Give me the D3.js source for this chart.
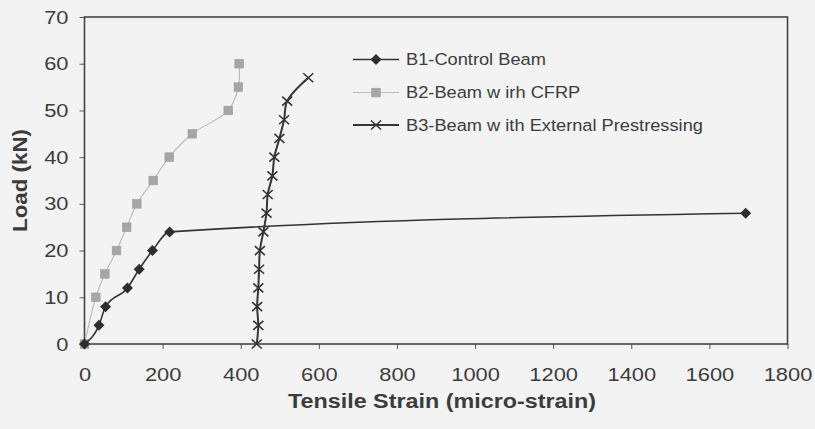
<!DOCTYPE html>
<html>
<head>
<meta charset="utf-8">
<script src="https://cdn.jsdelivr.net/npm/d3@7/dist/d3.min.js"></script>
<style>
  html, body { margin: 0; padding: 0; background: #f3f3f3; }
  svg { display: block; }
  text { font-family: "Liberation Sans", Arial, sans-serif; fill: #3c3c3c; }
</style>
</head>
<body>
<script>
// ---- data ----
const xTicks = [0, 200, 400, 600, 800, 1000, 1200, 1400, 1600, 1800];
const yTicks = [0, 10, 20, 30, 40, 50, 60, 70];

const b1Strain = [0, 37, 54, 110, 140, 174, 218, 1693];
const b1Load   = [0, 4, 8, 12, 16, 20, 24, 28];

const b2Strain = [0, 29, 52, 82, 108, 134, 176, 217, 276, 368, 394, 396];
const b2Load   = [0, 10, 15, 20, 25, 30, 35, 40, 45, 50, 55, 60];

const b3Strain = [441, 445, 442, 445, 447, 449, 458, 466, 469, 481, 486, 499, 511, 519, 573];
const b3Load   = [0, 4, 8, 12, 16, 20, 24, 28, 32, 36, 40, 44, 48, 52, 57];

const seriesNames = ["B1-Control Beam", "B2-Beam w irh CFRP", "B3-Beam w ith External Prestressing"];
const xTitle = "Tensile Strain (micro-strain)";
const yTitle = "Load (kN)";

// ---- layout ----
const W = 815, H = 429;
const mLeft = 84.5, mRight = 787.5, mTop = 17, mBottom = 344;

const svg = d3.select("body").append("svg").attr("width", W).attr("height", H);
svg.append("rect").attr("width", W).attr("height", H).attr("fill", "#f3f3f3");

const x = d3.scaleLinear().domain([0, 1800]).range([mLeft, mRight]);
const y = d3.scaleLinear().domain([0, 70]).range([mBottom, mTop]);

// axes
const gx = svg.append("g").attr("transform", `translate(0,${mBottom})`)
  .call(d3.axisBottom(x).tickValues(xTicks).tickSize(5).tickPadding(19).tickFormat(d3.format("d")));
const gy = svg.append("g").attr("transform", `translate(${mLeft},0)`)
  .call(d3.axisLeft(y).tickValues(yTicks).tickSize(5).tickPadding(11).tickFormat(d3.format("d")));
[gx, gy].forEach(g => {
  g.select(".domain").remove();
  g.selectAll(".tick line").attr("stroke", "#555").attr("stroke-width", 1);
  g.selectAll(".tick text").attr("font-size", 19).attr("fill", "#444")
    .attr("font-family", "Liberation Sans, Arial, sans-serif").attr("data-sx", 1.15);
});

// frame
svg.append("rect").attr("x", mLeft).attr("y", mTop)
  .attr("width", mRight - mLeft).attr("height", mBottom - mTop)
  .attr("fill", "none").attr("stroke", "#444").attr("stroke-width", 1.6);

// titles
svg.append("text").attr("x", 442).attr("y", 407.7).attr("text-anchor", "middle")
  .attr("font-size", 20).attr("font-weight", "bold").attr("data-tl", 308).text(xTitle);
svg.append("text").attr("transform", "translate(26.7,180.5) rotate(-90)").attr("text-anchor", "middle")
  .attr("font-size", 19.5).attr("font-weight", "bold").attr("data-tl", 103).text(yTitle);

// marker shapes
function diamond(g, cx, cy) {
  g.append("path").attr("d", `M${cx},${cy - 5.5}L${cx + 5.5},${cy}L${cx},${cy + 5.5}L${cx - 5.5},${cy}Z`)
    .attr("fill", "#2e2e2e");
}
function square(g, cx, cy) {
  g.append("rect").attr("x", cx - 4.3).attr("y", cy - 4.3).attr("width", 8.6).attr("height", 8.6)
    .attr("fill", "#a6a6a6").attr("stroke", "#9c9c9c").attr("stroke-width", 0.6);
}
function cross(g, cx, cy) {
  g.append("path").attr("d", `M${cx - 5},${cy - 4.5}L${cx + 5},${cy + 4.5}M${cx - 5},${cy + 4.5}L${cx + 5},${cy - 4.5}`)
    .attr("stroke", "#333").attr("stroke-width", 1.6).attr("fill", "none");
}

const series = [
  { xs: b1Strain, ys: b1Load, color: "#333", width: 1.6, mark: diamond, curve: d3.curveMonotoneX },
  { xs: b2Strain, ys: b2Load, color: "#bababa", width: 1.1, mark: square, curve: d3.curveCatmullRom.alpha(0.5) },
  { xs: b3Strain, ys: b3Load, color: "#363636", width: 2, mark: cross, curve: d3.curveCatmullRom.alpha(0.5) }
];

const plot = svg.append("g");
// draw B2 first (lighter), then B1, then B3
[1, 0, 2].forEach(i => {
  const s = series[i];
  const pts = s.xs.map((v, k) => [v, s.ys[k]]);
  const line = d3.line().x(d => x(d[0])).y(d => y(d[1])).curve(s.curve);
  plot.append("path").datum(pts).attr("d", line)
    .attr("fill", "none").attr("stroke", s.color).attr("stroke-width", s.width);
  const mg = plot.append("g");
  pts.forEach(p => s.mark(mg, x(p[0]), y(p[1])));
});

// legend
const leg = svg.append("g");
const legRows = [59.5, 92.5, 125];
series.forEach((s, i) => {
  const cy = legRows[i];
  leg.append("line").attr("x1", 353).attr("x2", 399).attr("y1", cy).attr("y2", cy)
    .attr("stroke", s.color).attr("stroke-width", s.width);
  s.mark(leg, 376, cy);
  leg.append("text").attr("x", 406).attr("y", cy + 5.8).attr("font-size", 16.3)
    .attr("data-sx", 1.12).text(seriesNames[i]);
});

// horizontal stretch of text to match the wider lettering of the reference
svg.selectAll("text").each(function () {
  const tl = this.getAttribute("data-tl");
  const sx = this.getAttribute("data-sx");
  let target = null;
  if (tl) target = +tl;
  else if (sx) target = this.getComputedTextLength() * (+sx);
  if (target) {
    this.setAttribute("textLength", target);
    this.setAttribute("lengthAdjust", "spacingAndGlyphs");
  }
});
</script>
</body>
</html>
